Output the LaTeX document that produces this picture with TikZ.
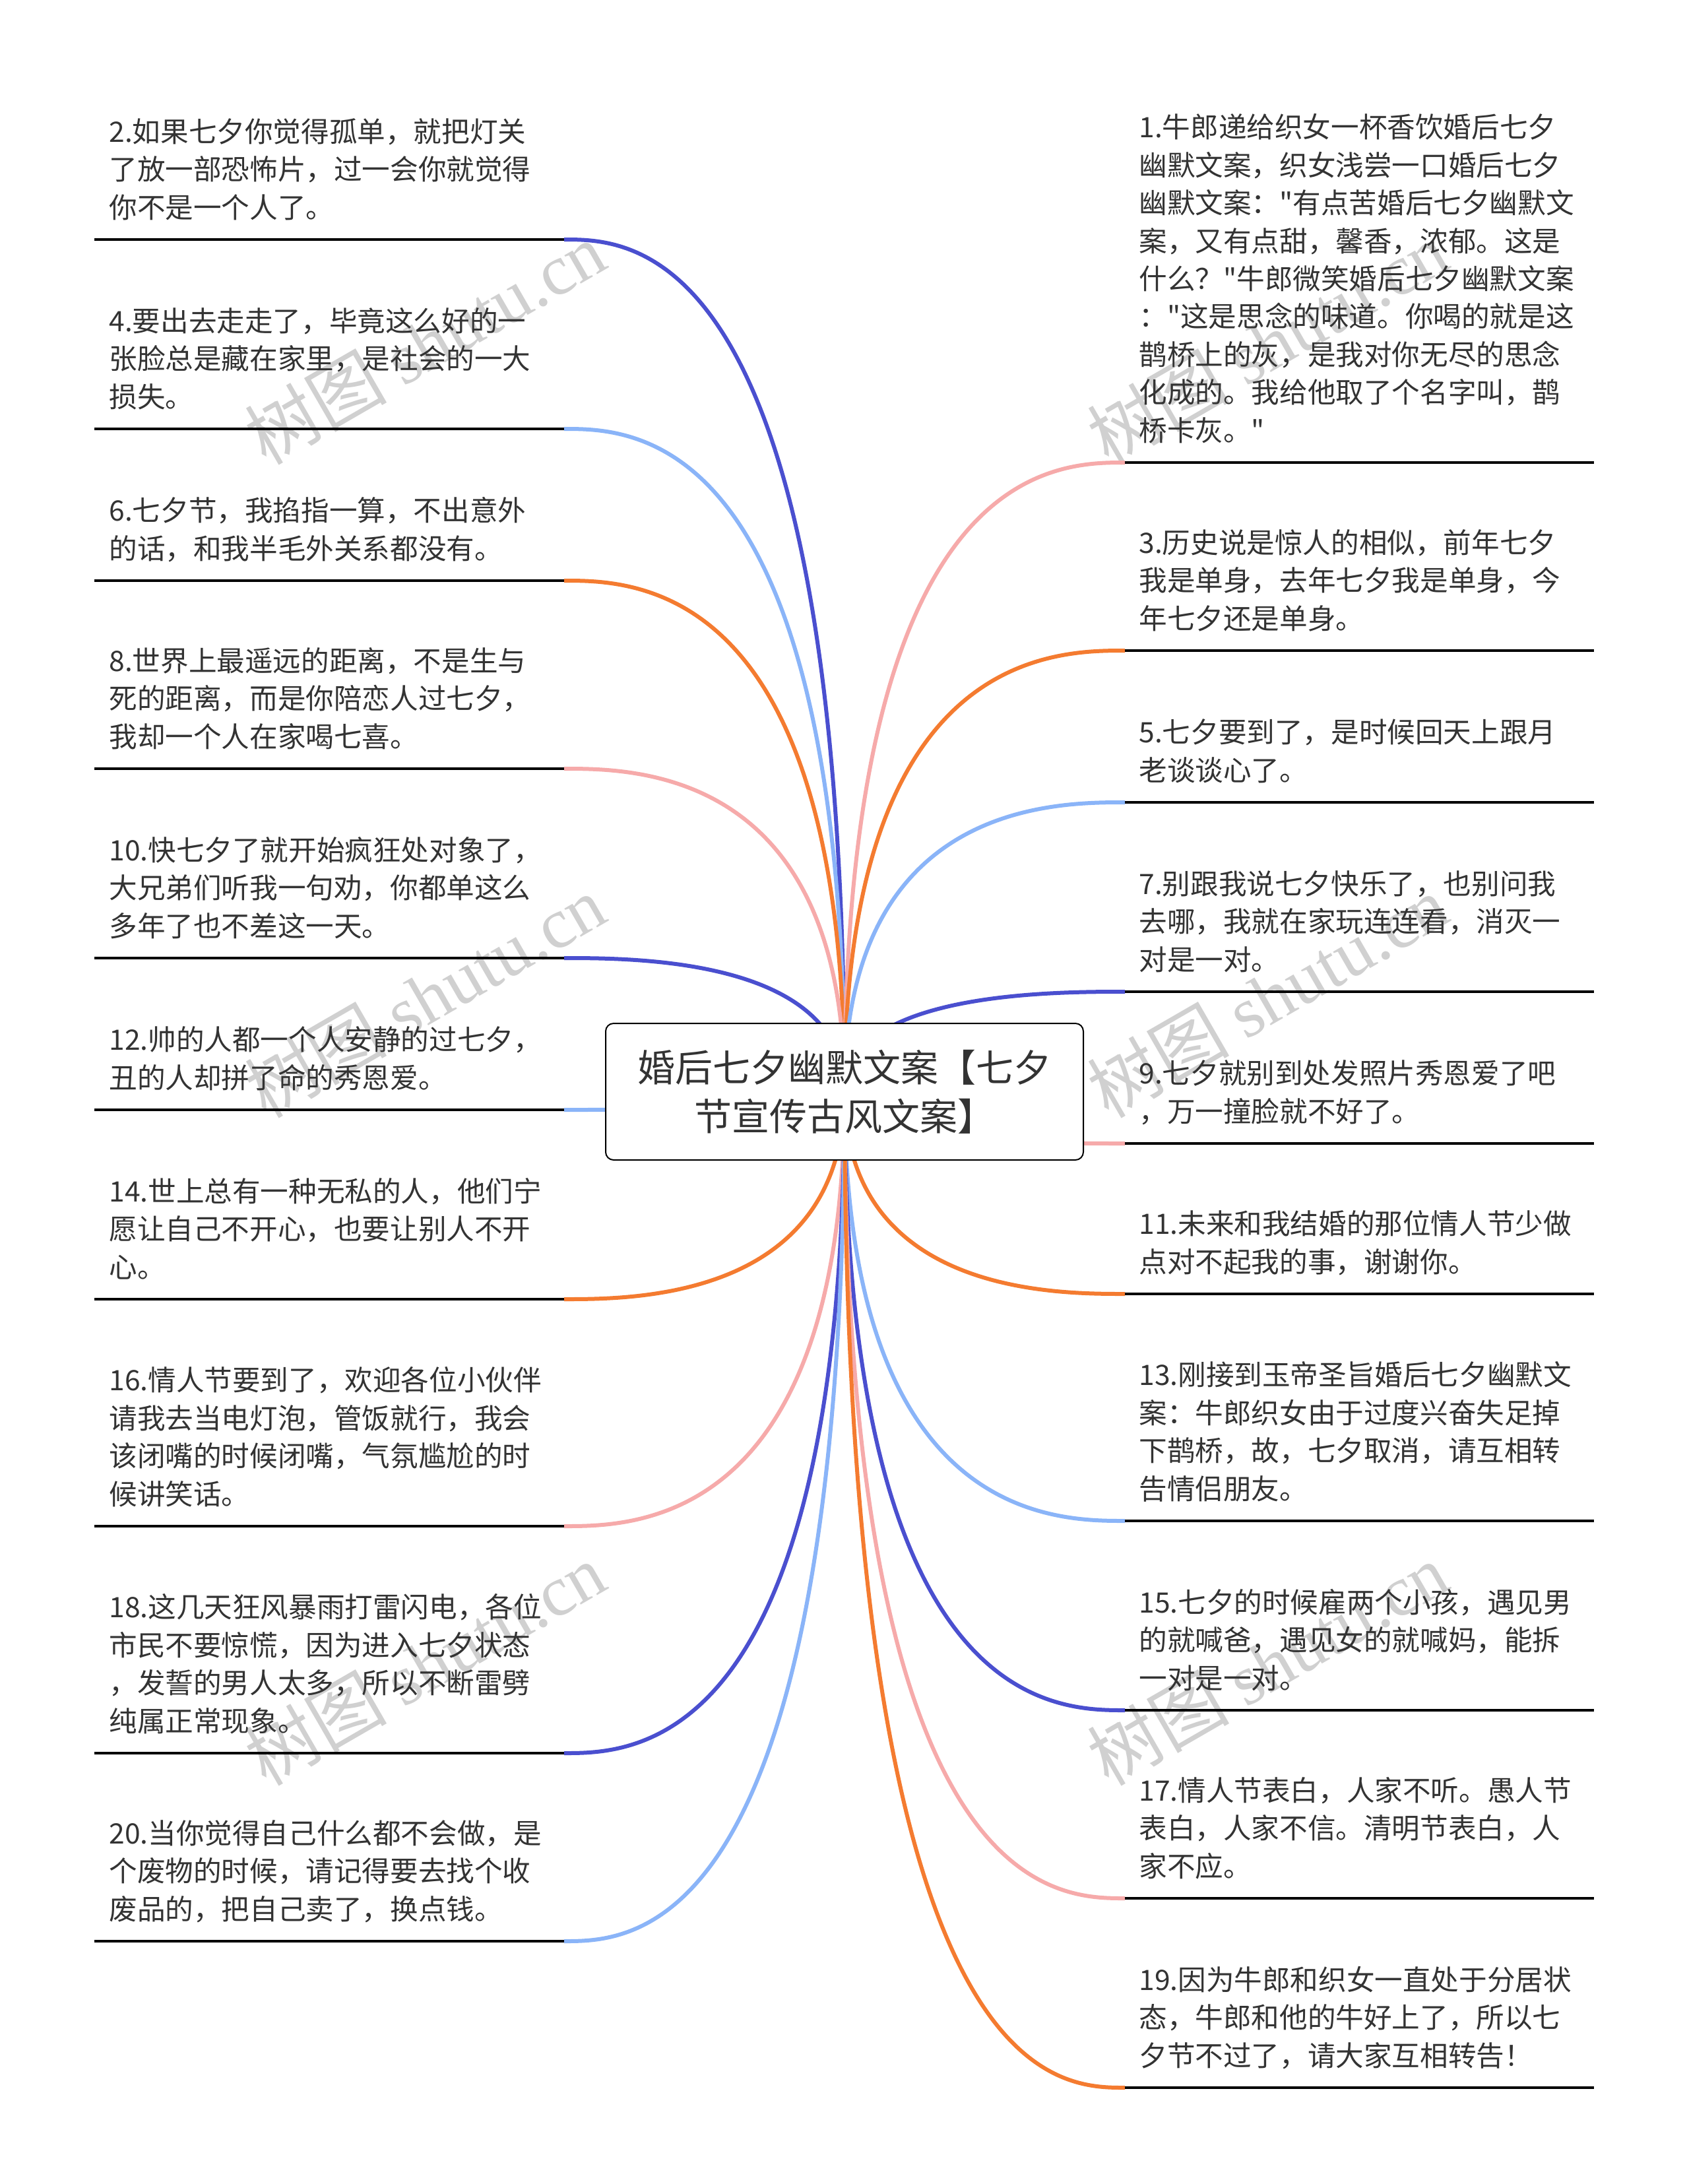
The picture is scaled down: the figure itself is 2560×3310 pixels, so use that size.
\documentclass[tikz,border=0pt]{standalone}
\usepackage{fontspec}
\setmainfont{Noto Sans CJK SC}[Ligatures=TeXOff]
\newfontfamily\wmserif{Liberation Serif}
\usetikzlibrary{calc}
\pgfdeclarelayer{bg}
\pgfsetlayers{bg,main}
\definecolor{dblue}{HTML}{4A4FCF}
\definecolor{lblue}{HTML}{8AB4F8}
\definecolor{orng}{HTML}{F47B30}
\definecolor{cpink}{HTML}{F6AAAA}
\definecolor{txt}{HTML}{333333}
\definecolor{wmgray}{HTML}{D0D0D0}
\tikzset{
  leaf/.style={anchor=base west, align=left, inner sep=0pt, text=txt, font=\fontsize{21.3}{28.7}\selectfont},
  uline/.style={line width=2.3pt, black},
  branch/.style={line width=3pt},
  centre/.style={draw=black, line width=1pt, fill=white, rounded corners=6pt, minimum width=362pt, minimum height=103.5pt, inner sep=0pt, align=center, text=txt, font=\fontsize{28.5}{37}\selectfont},
  wmark/.style={text=wmgray, rotate=30, inner sep=0pt, font=\fontsize{54}{54}\selectfont}
}
% #1 name, #2 underline y, #3 colour, #4 text (anchored at its last baseline)
\newcommand\leafL[4]{%
  \node[leaf] (#1) at (165,#2-33) {#4};
  \coordinate (#1s) at (143,#2);
  \coordinate (#1e) at (855,#2);
  \draw[uline] (#1s) -- (#1e);
  \begin{pgfonlayer}{bg}
  \draw[branch,#3] (c.center) .. controls (c.center |- #1e) and ($(#1e)!0.25!(c.center |- #1e)$) .. (#1e);
  \end{pgfonlayer}}
\newcommand\leafR[4]{%
  \node[leaf] (#1) at (1726,#2-33) {#4};
  \coordinate (#1s) at (1705,#2);
  \coordinate (#1e) at (2416,#2);
  \draw[uline] (#1s) -- (#1e);
  \begin{pgfonlayer}{bg}
  \draw[branch,#3] (c.center) .. controls (c.center |- #1s) and ($(#1s)!0.25!(c.center |- #1s)$) .. (#1s);
  \end{pgfonlayer}}
\begin{document}
\begin{tikzpicture}[x=0.5pt,y=-0.5pt]
\useasboundingbox (0,0) rectangle (2560,3310);
\begin{pgfonlayer}{bg}
\fill[white] (0,0) rectangle (2560,3310);
\node[wmark] (wm1) at (644,520) {树图 {\wmserif shutu.cn}};
\node[wmark] (wm2) at (644,1510) {树图 {\wmserif shutu.cn}};
\node[wmark] (wm3) at (644,2522) {树图 {\wmserif shutu.cn}};
\node[wmark] (wm4) at (1921,520) {树图 {\wmserif shutu.cn}};
\node[wmark] (wm5) at (1921,1510) {树图 {\wmserif shutu.cn}};
\node[wmark] (wm6) at (1921,2522) {树图 {\wmserif shutu.cn}};
\end{pgfonlayer}
\node[centre] (c) at (1280,1654.5) {婚后七夕幽默文案【七夕\\节宣传古风文案】};
\leafL{L2}{363}{dblue}{2.如果七夕你觉得孤单，就把灯关\\了放一部恐怖片，过一会你就觉得\\你不是一个人了。}
\leafL{L4}{650}{lblue}{4.要出去走走了，毕竟这么好的一\\张脸总是藏在家里，是社会的一大\\损失。}
\leafL{L6}{880}{orng}{6.七夕节，我掐指一算，不出意外\\的话，和我半毛外关系都没有。}
\leafL{L8}{1165}{cpink}{8.世界上最遥远的距离，不是生与\\死的距离，而是你陪恋人过七夕，\\我却一个人在家喝七喜。}
\leafL{L10}{1452}{dblue}{10.快七夕了就开始疯狂处对象了，\\大兄弟们听我一句劝，你都单这么\\多年了也不差这一天。}
\leafL{L12}{1682}{lblue}{12.帅的人都一个人安静的过七夕，\\丑的人却拼了命的秀恩爱。}
\leafL{L14}{1969}{orng}{14.世上总有一种无私的人，他们宁\\愿让自己不开心，也要让别人不开\\心。}
\leafL{L16}{2313}{cpink}{16.情人节要到了，欢迎各位小伙伴\\请我去当电灯泡，管饭就行，我会\\该闭嘴的时候闭嘴，气氛尴尬的时\\候讲笑话。}
\leafL{L18}{2657}{dblue}{18.这几天狂风暴雨打雷闪电，各位\\市民不要惊慌，因为进入七夕状态\\，发誓的男人太多，所以不断雷劈\\纯属正常现象。}
\leafL{L20}{2942}{lblue}{20.当你觉得自己什么都不会做，是\\个废物的时候，请记得要去找个收\\废品的，把自己卖了，换点钱。}
\leafR{R1}{701}{cpink}{1.牛郎递给织女一杯香饮婚后七夕\\幽默文案，织女浅尝一口婚后七夕\\幽默文案："有点苦婚后七夕幽默文\\案，又有点甜，馨香，浓郁。这是\\什么？"牛郎微笑婚后七夕幽默文案\\："这是思念的味道。你喝的就是这\\鹊桥上的灰，是我对你无尽的思念\\化成的。我给他取了个名字叫，鹊\\桥卡灰。"}
\leafR{R3}{986}{orng}{3.历史说是惊人的相似，前年七夕\\我是单身，去年七夕我是单身，今\\年七夕还是单身。}
\leafR{R5}{1216}{lblue}{5.七夕要到了，是时候回天上跟月\\老谈谈心了。}
\leafR{R7}{1503}{dblue}{7.别跟我说七夕快乐了，也别问我\\去哪，我就在家玩连连看，消灭一\\对是一对。}
\leafR{R9}{1733}{cpink}{9.七夕就别到处发照片秀恩爱了吧\\，万一撞脸就不好了。}
\leafR{R11}{1961}{orng}{11.未来和我结婚的那位情人节少做\\点对不起我的事，谢谢你。}
\leafR{R13}{2305}{lblue}{13.刚接到玉帝圣旨婚后七夕幽默文\\案：牛郎织女由于过度兴奋失足掉\\下鹊桥，故，七夕取消，请互相转\\告情侣朋友。}
\leafR{R15}{2592}{dblue}{15.七夕的时候雇两个小孩，遇见男\\的就喊爸，遇见女的就喊妈，能拆\\一对是一对。}
\leafR{R17}{2877}{cpink}{17.情人节表白，人家不听。愚人节\\表白，人家不信。清明节表白，人\\家不应。}
\leafR{R19}{3164}{orng}{19.因为牛郎和织女一直处于分居状\\态，牛郎和他的牛好上了，所以七\\夕节不过了，请大家互相转告！}
\end{tikzpicture}
\end{document}
